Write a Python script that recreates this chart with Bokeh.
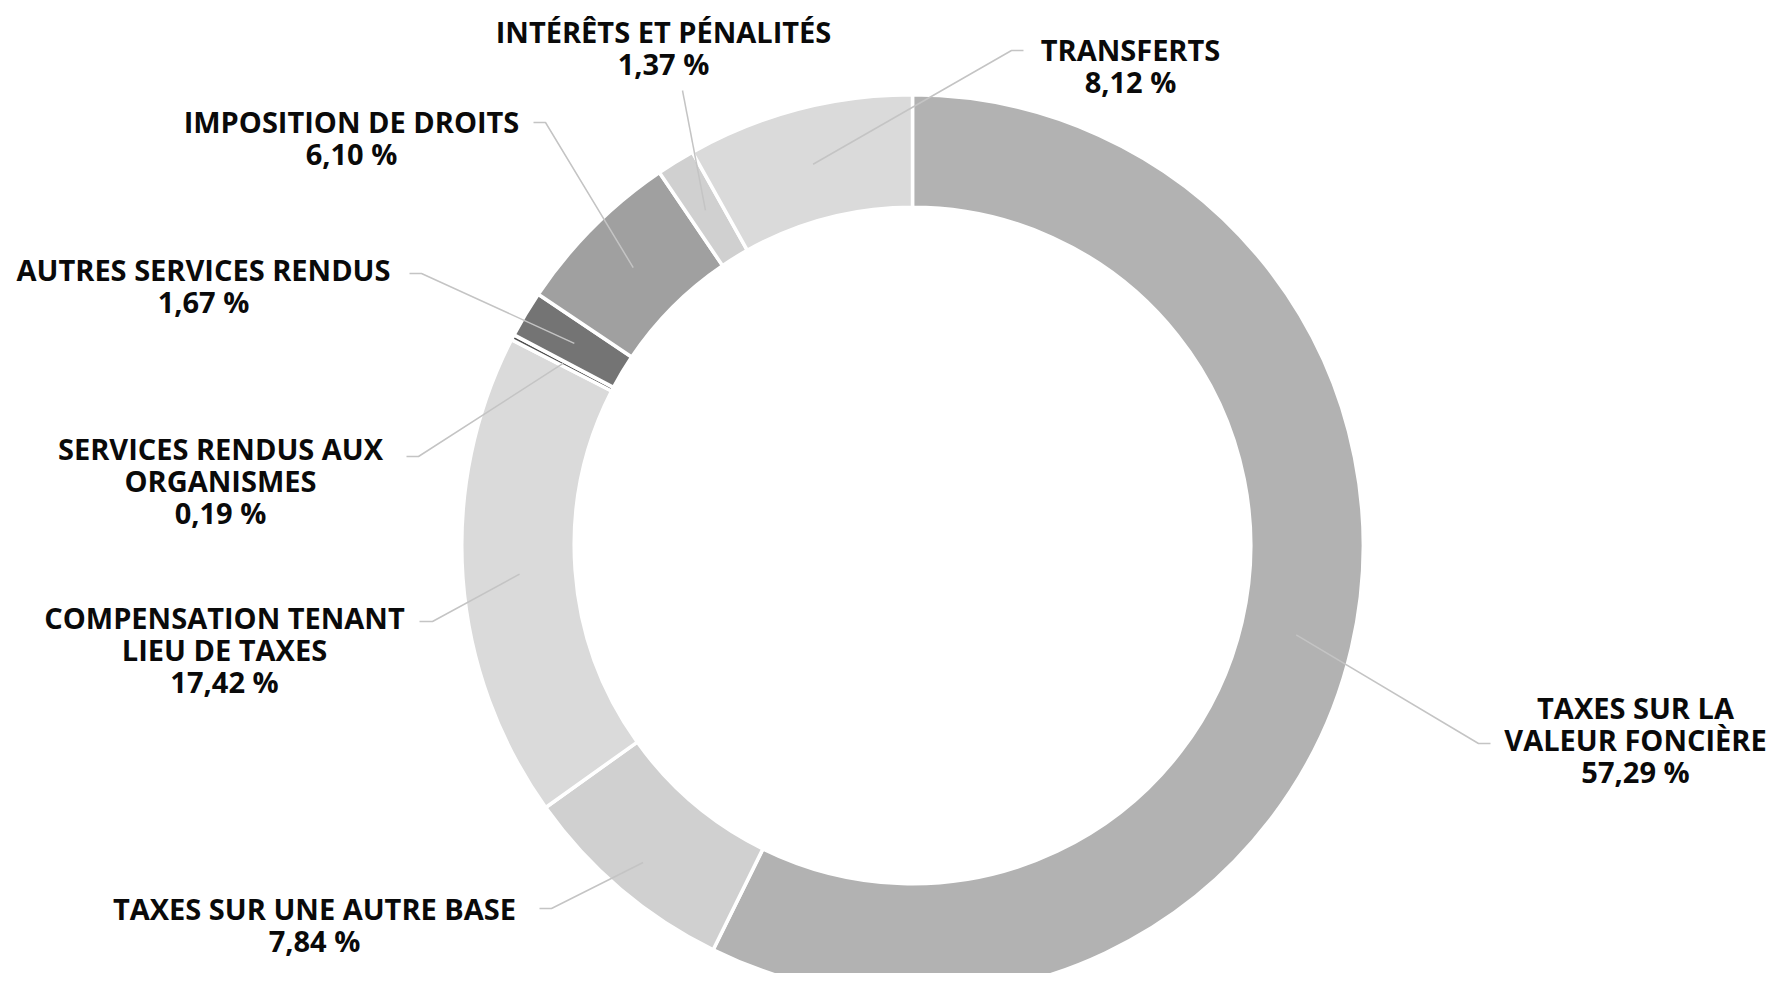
import math
from bokeh.plotting import figure
from bokeh.models import Range1d, ColumnDataSource
from bokeh.embed import file_html
from bokeh.resources import INLINE
from bokeh.core.properties import value

# ---------------- data ----------------
categories = [
    "TAXES SUR LA\nVALEUR FONCIÈRE",
    "TAXES SUR UNE AUTRE BASE",
    "COMPENSATION TENANT\nLIEU DE TAXES",
    "SERVICES RENDUS AUX\nORGANISMES",
    "AUTRES SERVICES RENDUS",
    "IMPOSITION DE DROITS",
    "INTÉRÊTS ET PÉNALITÉS",
    "TRANSFERTS",
]
shares = [57.29, 7.84, 17.42, 0.19, 1.67, 6.10, 1.37, 8.12]
colors = ["#b2b2b2", "#d0d0d0", "#dadada", "#505050",
          "#747474", "#a0a0a0", "#d0d0d0", "#dadada"]

# ---------------- layout (picture pixel coordinates) ----------------
W, H = 1776, 973
CX, CY = 912, 545
R_OUT, R_IN = 449, 340
GAP = 3.5
LINE_H = 32
FONT = "Open Sans"
FSIZE = "29px"

# label centre x, first baseline y, connector points after anchor, anchor radius
label_layout = [
    dict(cx=1635, by=707, pts=[(1478, 743), (1490, 743)], ar=394),
    dict(cx=314, by=908, pts=[(551, 908), (539, 908)], ar=416),
    dict(cx=224, by=617, pts=[(432, 621), (419, 621)], ar=394),
    dict(cx=220, by=448, pts=[(418, 456), (406, 456)], ar=394),
    dict(cx=203, by=269, pts=[(421, 273), (409, 273)], ar=394),
    dict(cx=351, by=121, pts=[(545, 122), (533, 122)], ar=394),
    dict(cx=663, by=31, pts=[(682, 90)], ar=394),
    dict(cx=1130, by=49, pts=[(1011, 50), (1023, 50)], ar=394),
]


def fy(py):
    return H - py


p = figure(width=W, height=H, output_backend="svg", toolbar_location=None,
           x_range=Range1d(0, W), y_range=Range1d(0, H),
           min_border=0, tools="")
p.axis.visible = False
p.grid.visible = False
p.outline_line_color = None
p.background_fill_color = "white"
p.border_fill_color = "white"

total = sum(shares)
starts, ends, mids = [], [], []
acc = 0.0
for s in shares:
    a0 = acc / total * 360.0
    acc += s
    a1 = acc / total * 360.0
    starts.append(math.radians(90 - a0))
    ends.append(math.radians(90 - a1))
    mids.append(math.radians((a0 + a1) / 2))

src = ColumnDataSource(dict(x=[CX] * len(shares), y=[fy(CY)] * len(shares),
                            start=starts, end=ends, color=colors))
p.annular_wedge(x="x", y="y", inner_radius=R_IN - GAP / 2, outer_radius=R_OUT + GAP / 2,
                start_angle="start", end_angle="end", direction="clock",
                fill_color="color", line_color="white", line_width=GAP, source=src)

# connectors
xs, ys = [], []
for m, lay in zip(mids, label_layout):
    ax = CX + lay["ar"] * math.sin(m)
    ay = CY - lay["ar"] * math.cos(m)
    px = [ax] + [q[0] for q in lay["pts"]]
    py = [fy(ay)] + [fy(q[1]) for q in lay["pts"]]
    xs.append(px)
    ys.append(py)
p.multi_line(xs=xs, ys=ys, line_color="#c4c4c4", line_width=1.5)

# labels
tx, ty, tt = [], [], []
for name, s, lay in zip(categories, shares, label_layout):
    lines = name.split("\n") + [f"{s:.2f}".replace(".", ",") + " %"]
    for i, ln in enumerate(lines):
        tx.append(lay["cx"])
        ty.append(fy(lay["by"] + i * LINE_H))
        tt.append(ln)
p.text(x=tx, y=ty, text=tt, text_align="center", text_baseline="alphabetic",
       text_font=value(FONT), text_font_style="bold", text_font_size=FSIZE,
       text_color="#0a0a0a")

open("out.html", "w").write(file_html(p, INLINE))
